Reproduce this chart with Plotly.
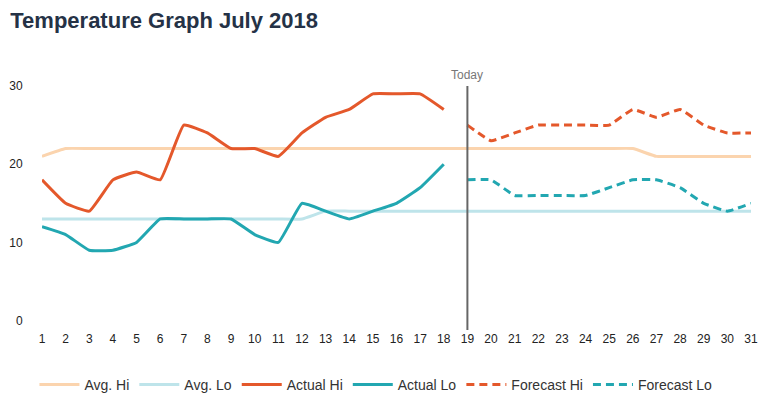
import plotly.graph_objects as go

days = list(range(1, 32))
avg_hi = [21] + [22] * 25 + [21] * 5
avg_lo = [13] * 12 + [14] * 19
actual_days = list(range(1, 19))
actual_hi = [18, 15, 14, 18, 19, 18, 25, 24, 22, 22, 21, 24, 26, 27, 29, 29, 29, 27]
actual_lo = [12, 11, 9, 9, 10, 13, 13, 13, 13, 11, 10, 15, 14, 13, 14, 15, 17, 20]
forecast_days = list(range(19, 32))
forecast_hi = [25, 23, 24, 25, 25, 25, 25, 27, 26, 27, 25, 24, 24]
forecast_lo = [18, 18, 16, 16, 16, 16, 17, 18, 18, 17, 15, 14, 15]
today = 19

C_HI = "#E4582B"
C_LO = "#22A7B1"
C_AVG_HI = "#FBD4AE"
C_AVG_LO = "#BEE4EA"

fig = go.Figure()
line_common = dict(width=3, shape="spline", smoothing=0.35)
fig.add_trace(go.Scatter(x=days, y=avg_hi, name="Avg. Hi", mode="lines",
                         line=dict(color=C_AVG_HI, **line_common)))
fig.add_trace(go.Scatter(x=days, y=avg_lo, name="Avg. Lo", mode="lines",
                         line=dict(color=C_AVG_LO, **line_common)))
fig.add_trace(go.Scatter(x=actual_days, y=actual_hi, name="Actual Hi", mode="lines",
                         line=dict(color=C_HI, **line_common)))
fig.add_trace(go.Scatter(x=actual_days, y=actual_lo, name="Actual Lo", mode="lines",
                         line=dict(color=C_LO, **line_common)))
fig.add_trace(go.Scatter(x=forecast_days, y=forecast_hi, name="Forecast Hi", mode="lines",
                         line=dict(color=C_HI, dash="8px,5px", **line_common)))
fig.add_trace(go.Scatter(x=forecast_days, y=forecast_lo, name="Forecast Lo", mode="lines",
                         line=dict(color=C_LO, dash="8px,5px", **line_common)))

fig.add_shape(type="line", xref="x", yref="paper", x0=today, x1=today, y0=0, y1=1.0,
              line=dict(color="#666666", width=2), layer="above")
fig.add_annotation(x=today, y=1.0, xref="x", yref="paper", text="Today", showarrow=False,
                   yanchor="bottom", yshift=2, font=dict(size=12, color="#777777"))

fig.update_layout(
    width=768, height=400,
    margin=dict(l=34, r=25, t=78, b=78, autoexpand=False),
    paper_bgcolor="white", plot_bgcolor="white",
    font=dict(family="Liberation Sans, Arial, sans-serif", size=12, color="#333333"),
    title=dict(text="<b>Temperature Graph July 2018</b>", xref="container", x=0.003,
               xanchor="left", yref="container", y=0.97, yanchor="middle",
               font=dict(size=22, color="#253246", family="Liberation Sans, Arial, sans-serif")),
    showlegend=True,
    legend=dict(orientation="h", x=0.471, xanchor="center", itemwidth=40,
                y=-0.225, yanchor="middle", font=dict(size=14, color="#333333")),
    xaxis=dict(range=[1, 31], tickmode="array", tickvals=days, ticktext=[str(d) for d in days],
               showgrid=False, zeroline=False, showline=False, ticks="", tickangle=0,
               tickfont=dict(size=12, color="#222222")),
    yaxis=dict(range=[-1.2, 30], tickmode="array", tickvals=[0, 10, 20, 30],
               showgrid=False, zeroline=False, showline=False, ticks="outside",
               ticklen=16, tickcolor="rgba(0,0,0,0)",
               tickfont=dict(size=12, color="#222222")),
)

fig.write_html("out.html")
